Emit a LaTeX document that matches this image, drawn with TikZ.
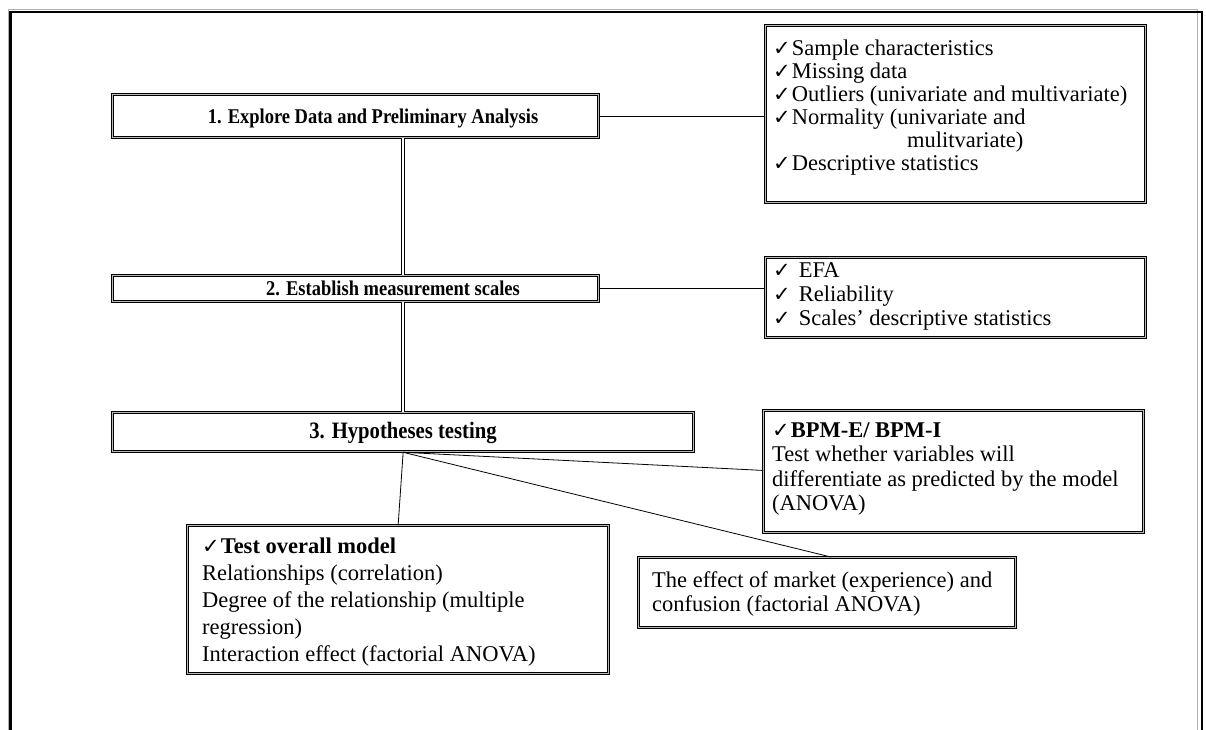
\documentclass[tikz,border=0pt]{standalone}
\usepackage{fontspec}
\setmainfont{Liberation Serif}
\newfontfamily\symfont{DejaVu Sans}
\newfontfamily\headfont{Liberation Serif}[FakeStretch=0.88]
\usetikzlibrary{calc}
\newcommand\chk{{\symfont\fontsize{21}{21}\selectfont ✓}\hspace{1pt}}
\tikzset{
  stagebox/.style={rectangle, draw=black, line width=1.3pt, double=gray!55,
    double distance=0.9pt, inner sep=0pt, anchor=north west},
  conn/.style={draw=black, line width=0.8pt},
  spine/.style={draw=black, line width=1.2pt, double=white, double distance=1.6pt},
  headtxt/.style={font=\headfont\bfseries\fontsize{21}{22}\selectfont, inner sep=0pt, anchor=base},
  bodytxt/.style={align=left, inner sep=0pt, anchor=north west},
}
\begin{document}
\begin{tikzpicture}[x=1pt,y=-1pt]
\useasboundingbox (0,0) rectangle (1206,729);
\clip (0,0) rectangle (1206,729);

% outer frame with a grey shadow line
\draw[gray!60, line width=1pt] (8,740) -- (8,9) -- (1197,9) -- (1197,740);
\draw[black, line width=2.2pt] (10.5,740) -- (10.5,12) -- (1202,12) -- (1202,740);

% main stages
\node[stagebox, minimum width=486, minimum height=43] (b1) at (112,94) {};
\node[stagebox, minimum width=486, minimum height=26] (b2) at (112,275) {};
\node[stagebox, minimum width=581, minimum height=39] (b3) at (112,412) {};
\node[headtxt] (t1) at (373,123) {1. Explore Data and Preliminary Analysis};
\node[headtxt] (t2) at (393,295) {2. Establish measurement scales};
\node[headtxt, font=\headfont\bfseries\fontsize{23.5}{24}\selectfont] (t3) at (403,438) {3. Hypotheses testing};

% detail boxes
\node[stagebox, minimum width=380, minimum height=177] (bA) at (765,25) {};
\node[stagebox, minimum width=380, minimum height=80] (bB) at (765,257) {};
\node[stagebox, minimum width=380, minimum height=122] (bC) at (763,410) {};
\node[stagebox, minimum width=377, minimum height=70] (bD) at (638,557) {};
\node[stagebox, minimum width=421, minimum height=148] (bE) at (187,525) {};

\node[bodytxt, font=\fontsize{22.5}{23}\selectfont] (tA) at (773,40)
  {\chk Sample characteristics\\
   \chk Missing data\\
   \chk Outliers (univariate and multivariate)\\
   \chk Normality (univariate and\\
   \hspace*{134pt}mulitvariate)\\
   \chk Descriptive statistics};
\node[bodytxt, font=\fontsize{22.5}{24}\selectfont] (tB) at (773,262)
  {\chk\hspace{7pt}EFA\\
   \chk\hspace{7pt}Reliability\\
   \chk\hspace{7pt}Scales’ descriptive statistics};
\node[bodytxt, font=\fontsize{22.5}{24.5}\selectfont] (tC) at (772,422)
  {\chk\textbf{BPM-E/ BPM-I}\\
   Test whether variables will\\
   differentiate as predicted by the model\\
   (ANOVA)};
\node[bodytxt, font=\fontsize{22.5}{24}\selectfont] (tD) at (652,571)
  {The effect of market (experience) and\\
   confusion (factorial ANOVA)};
\node[bodytxt, font=\fontsize{22.5}{27}\selectfont] (tE) at (202,538)
  {\chk\textbf{Test overall model}\\
   Relationships (correlation)\\
   Degree of the relationship (multiple\\
   regression)\\
   Interaction effect (factorial ANOVA)};

% stage spine
\draw[spine] (b1.south -| b3.south) -- (b2.north -| b3.south);
\draw[spine] (b2.south -| b3.south) -- (b3.north);

% connectors to detail boxes
\draw[conn] (b1.east) -- (b1.east -| bA.west);
\draw[conn] (b2.east) -- (b2.east -| bB.west);
\draw[conn] (b3.south) -- ($(bC.north west)!0.49!(bC.south west)$);
\draw[conn] (b3.south) -- ($(bD.north west)!0.51!(bD.north east)$);
\draw[conn] (b3.south) -- (bE.north);
\end{tikzpicture}
\end{document}
